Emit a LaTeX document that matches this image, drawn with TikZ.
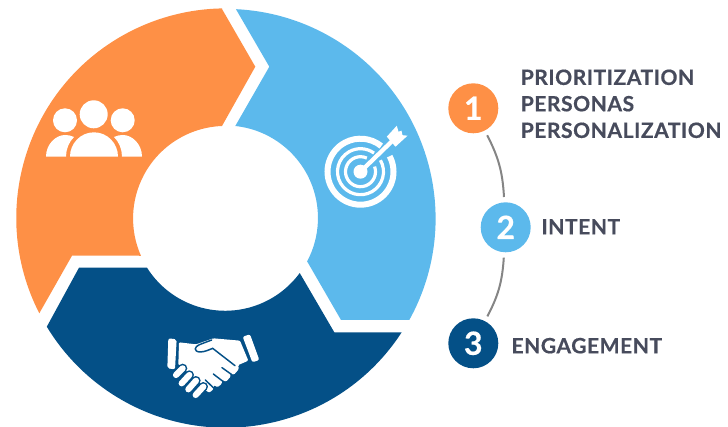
\documentclass[tikz,border=0pt]{standalone}
\usepackage{fontspec}
\setmainfont{Lato}[BoldFeatures={FakeBold=0.5,LetterSpace=2.5}]
\definecolor{orng}{HTML}{FE9046}
\definecolor{sky}{HTML}{5CB9EC}
\definecolor{navy}{HTML}{045087}
\definecolor{ink}{HTML}{474B5C}
\definecolor{linegray}{HTML}{858585}
\tikzset{
  badge/.style={circle,minimum size=37.5pt,inner sep=0pt,outer sep=4pt,text=white,font=\fontsize{24}{24}\selectfont\bfseries},
  lab/.style={anchor=west,inner sep=0pt,text=ink,font=\fontsize{15.8}{15.8}\selectfont\bfseries},
  link/.style={linegray,line width=1.5pt},
  iconfill/.style={fill=white,draw=none},
  slit/.style={navy,line width=1.1pt,line cap=round},
  knuckle/.style={line cap=round},
}
\begin{document}
\begin{tikzpicture}[x=.75pt,y=-.75pt]
\useasboundingbox (0,0) rectangle (728,427);
\coordinate (C) at (225.5,218);
% ring segments (angles negated: y axis points down)
\fill[orng] (222,9) -- (255.3,66.7) -- (222,126)
  arc[start angle=-92.2,end angle=-203.8,radius=92.5] -- (72,255.7) -- (39.3,313.3)
  arc[start angle=-207.1,end angle=-91,radius=209.5] -- cycle;
\fill[sky] (236,9.3) -- (269.3,66.7) -- (235.3,126)
  arc[start angle=-83.9,end angle=28,radius=92.5] -- (341,320) -- (409.3,320)
  arc[start angle=29,end angle=-87.1,radius=209.5] -- cycle;
\fill[navy] (79,267.7) -- (147,267.7)
  arc[start angle=-212.3,end angle=-323.7,radius=92.5] -- (334.3,332.3) -- (401.7,332.3)
  arc[start angle=-327,end angle=-211.2,radius=209.5] -- cycle;
% people icon
\fill[iconfill] (93.7,114.3) circle[radius=14] (65,120.3) circle[radius=12] (122.7,120.3) circle[radius=12];
\fill[iconfill] (70,156.7) arc[start angle=180,end angle=360,x radius=24,y radius=24.4] -- cycle;
\fill[iconfill] (46,156.7) .. controls (46,144) and (56,135) .. (65,135) .. controls (68,135) and (71,135.5) .. (74,137) .. controls (69,142) and (66,149) .. (66,156.7) -- cycle;
\fill[iconfill] (142,156.7) .. controls (142,144) and (132,135) .. (123,135) .. controls (120,135) and (117,135.5) .. (114,137) .. controls (119,142) and (122,149) .. (122,156.7) -- cycle;
% target icon
\begin{scope}[shift={(360.5,171.7)}]
  \draw[white,line width=4.5pt] (-28:33) arc[start angle=-28,end angle=309,radius=33];
  \draw[white,line width=2.4pt] (-30:23) arc[start angle=-30,end angle=306,radius=23];
  \draw[white,line width=2.4pt] (-20:15) arc[start angle=-20,end angle=295,radius=15];
  \fill[white] (0,0) circle[radius=7];
  \draw[white,line width=3.2pt] (0,0) -- (32,-31);
  \fill[white] (26.3,-35) -- (36.3,-46) -- (38,-40) -- (41,-41) -- (42,-36.5) -- (47,-36) -- (35,-25) -- cycle;
\end{scope}
% handshake icon
\begin{scope}[shift={(160,330)},scale=1/3]
  \fill[white,rounded corners=1.5pt] (25,25) -- (50,28) -- (45,118) -- (22,115) -- cycle;
  \fill[white,rounded corners=1.5pt] (248,20) -- (270,13) -- (298,90) -- (277,97) -- cycle;
  \fill[white,rounded corners=.8pt] (57,37) -- (108,43) -- (160,25) -- (240,32) -- (265,92) -- (235,105)
    -- (236,118) -- (222,134) -- (210,130) -- (212,140) -- (198,155) -- (186,150) -- (185,162) -- (172,172)
    -- (162,165) -- (160,178) -- (148,188) -- (135,180) -- (125,170) -- (60,105) -- (55,105) -- cycle;
  \draw[slit] (155,30) -- (118,44) .. controls (103,50) and (100,65) .. (120,66) .. controls (135,66) and (150,58) .. (158,55) -- (225,107);
  \draw[slit] (186,113) -- (214,133);
  \draw[slit] (160,132) -- (190,155);
  \draw[slit] (136,150) -- (162,175);
  \draw[navy,line width=7pt,knuckle] (68,115) -- (48,135) (88,135) -- (65,160) (108,152) -- (85,178) (130,170) -- (107,195);
  \draw[white,line width=4.6pt,knuckle] (68,115) -- (48,135) (88,135) -- (65,160) (108,152) -- (85,178) (130,170) -- (107,195);
\end{scope}
% legend
\node[badge,fill=orng] (n1) at (473.3,108.3) {1};
\node[badge,fill=sky] (n2) at (505.7,227.3) {2};
\node[badge,fill=navy] (n3) at (473.3,343.3) {3};
\draw[link] (n1) to[bend left=12] (n2);
\draw[link] (n2) to[bend left=12] (n3);
\node[lab] (t1) at (520.5,77.3) {PRIORITIZATION};
\node[lab] (t2) at (520.5,103.7) {PERSONAS};
\node[lab] (t3) at (520.5,130.3) {PERSONALIZATION};
\node[lab] (t4) at (541.2,226.7) {INTENT};
\node[lab] (t5) at (511.2,345.7) {ENGAGEMENT};
\end{tikzpicture}
\end{document}
